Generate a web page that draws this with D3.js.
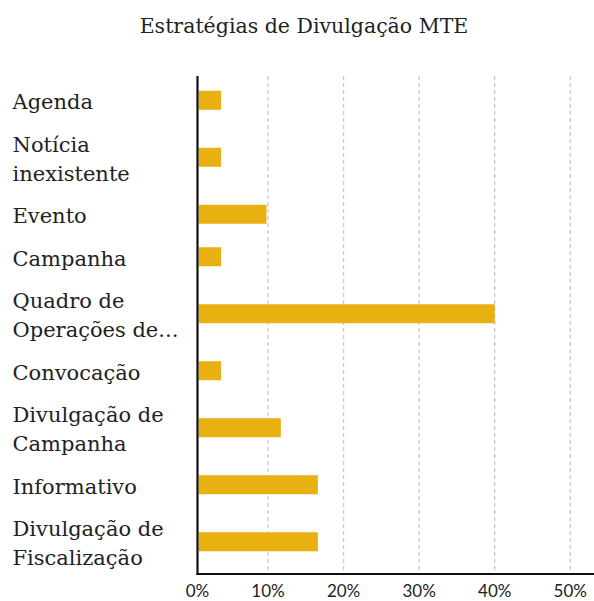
<!DOCTYPE html>
<html>
<head>
<meta charset="utf-8">
<script src="https://cdn.jsdelivr.net/npm/d3@7"></script>
<style>
  html, body { margin: 0; padding: 0; background: #fff; }
  svg { display: block; }
</style>
</head>
<body>
<div id="chart"></div>
<script>
// ---- data ----
const title = "Estratégias de Divulgação MTE";
const categories = [
  "Agenda",
  "Notícia\ninexistente",
  "Evento",
  "Campanha",
  "Quadro de\nOperações de...",
  "Convocação",
  "Divulgação de\nCampanha",
  "Informativo",
  "Divulgação de\nFiscalização"
];
const values = [3.8, 3.8, 9.8, 3.8, 40, 3.8, 11.7, 16.6, 16.6];
const tickValues = [0, 10, 20, 30, 40, 50];
const tickLabels = ["0%", "10%", "20%", "30%", "40%", "50%"];

// ---- layout ----
const W = 594, H = 601;
const plotTop = 76, plotBottom = 574;
const rowTop = 79;
const lineH = 29, rowPad = 13.5;
const barH = 19;
const barColor = "#e8b010";

const svg = d3.select("#chart").append("svg")
  .attr("width", W).attr("height", H);

const x = d3.scaleLinear().domain([0, 50]).range([192.4, 570.3]);
const axisX = x(0) + 5.1;

// row layout from label line counts
const rows = categories.map(c => c.split("\n"));
const heights = rows.map(r => rowPad + r.length * lineH);
const starts = [];
heights.reduce((acc, h, i) => { starts[i] = acc; return acc + h; }, rowTop);
const centers = starts.map((s, i) => s + heights[i] / 2);

// title
svg.append("text")
  .attr("x", 304).attr("y", 33.3)
  .attr("text-anchor", "middle")
  .attr("font-family", "DejaVu Serif")
  .attr("font-size", 20.5)
  .attr("fill", "#222")
  .text(title);

// gridlines
svg.append("g").selectAll("line")
  .data(tickValues.filter(v => v > 0))
  .join("line")
  .attr("x1", d => x(d)).attr("x2", d => x(d))
  .attr("y1", plotTop).attr("y2", plotBottom)
  .attr("stroke", "#c8c8c8")
  .attr("stroke-width", 1.3)
  .attr("stroke-dasharray", "4,3");

// bars
svg.append("g").selectAll("rect")
  .data(values)
  .join("rect")
  .attr("x", axisX + 1)
  .attr("y", (d, i) => centers[i] - barH / 2)
  .attr("width", d => Math.max(0, x(d) - axisX - 1))
  .attr("height", barH)
  .attr("fill", barColor);

// axis lines
svg.append("line")
  .attr("x1", axisX).attr("x2", axisX)
  .attr("y1", plotTop).attr("y2", plotBottom + 1)
  .attr("stroke", "#111").attr("stroke-width", 2.2);
svg.append("line")
  .attr("x1", axisX - 1.1).attr("x2", W)
  .attr("y1", plotBottom).attr("y2", plotBottom)
  .attr("stroke", "#111").attr("stroke-width", 2.2);

// tick labels
svg.append("g").selectAll("text")
  .data(tickValues)
  .join("text")
  .attr("x", (d, i) => i === 0 ? axisX : x(d))
  .attr("y", 597)
  .attr("text-anchor", "middle")
  .attr("font-family", "Lato")
  .attr("font-size", 17)
  .attr("fill", "#222")
  .text((d, i) => tickLabels[i]);

// category labels
const lab = svg.append("g").selectAll("text")
  .data(rows)
  .join("text")
  .attr("font-family", "DejaVu Serif")
  .attr("font-size", 21)
  .attr("fill", "#222");
lab.each(function(lines, i) {
  const first = centers[i] - (lines.length - 1) * lineH / 2 + 9;
  d3.select(this).selectAll("tspan")
    .data(lines)
    .join("tspan")
    .attr("x", 12.5)
    .attr("y", (l, j) => first + j * lineH)
    .text(l => l);
});
</script>
</body>
</html>
